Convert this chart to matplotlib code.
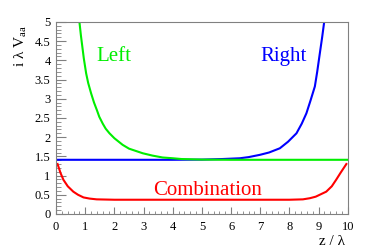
import matplotlib
matplotlib.use('Agg')
import matplotlib.pyplot as plt
from matplotlib.ticker import MultipleLocator, FormatStrFormatter

plt.rcParams['font.family'] = ['Liberation Serif', 'DejaVu Serif']
plt.rcParams['mathtext.fontset'] = 'custom'
plt.rcParams['mathtext.rm'] = 'Liberation Serif'

# curves
left_x = [0.80, 0.85, 0.90, 0.95, 1.03, 1.10, 1.20, 1.30, 1.40, 1.48, 1.60, 1.70, 1.83, 2.00, 2.28, 2.50,
          2.97, 3.30, 3.65, 4.00, 4.30, 5.0, 6.0, 7.0, 8.0, 9.0, 10.0]
left_y = [5.00, 4.65, 4.35, 4.05, 3.66, 3.41, 3.14, 2.90, 2.70, 2.53, 2.35, 2.22, 2.10, 1.97, 1.80, 1.70,
          1.58, 1.52, 1.47, 1.45, 1.43, 1.415, 1.41, 1.41, 1.41, 1.41, 1.41]

right_x = [0.0, 1.0, 2.0, 3.0, 4.0, 5.0, 5.70, 6.30, 6.60, 6.99, 7.30, 7.67, 7.95, 8.24, 8.42, 8.58, 8.72,
           8.87, 8.95, 9.04, 9.12, 9.19]
right_y = [1.41, 1.41, 1.41, 1.41, 1.41, 1.415, 1.43, 1.45, 1.48, 1.54, 1.60, 1.71, 1.88, 2.10, 2.35, 2.62, 2.95,
           3.32, 3.70, 4.18, 4.60, 5.00]

comb_x = [0.05, 0.15, 0.25, 0.40, 0.59, 0.75, 0.94, 1.15, 1.39, 2.0, 3.0, 4.0, 5.0, 6.0, 7.0, 8.0, 8.46, 8.70,
          8.90, 9.26, 9.45, 9.60, 9.75, 9.95]
comb_y = [1.30, 1.07, 0.89, 0.72, 0.58, 0.50, 0.43, 0.40, 0.38, 0.37, 0.37, 0.37, 0.37, 0.37, 0.37, 0.37, 0.38, 0.41,
          0.45, 0.58, 0.72, 0.89, 1.07, 1.30]

fig = plt.figure(figsize=(3.74, 2.52), dpi=100)
ax = fig.add_axes([0.150, 0.151, 0.780, 0.762])

ax.plot(right_x, right_y, color='#0000ff', lw=1.5)
ax.plot(left_x, left_y, color='#00ee00', lw=1.5)
ax.plot(comb_x, comb_y, color='#ff0000', lw=1.5)

ax.text(1.39, 3.97, 'Left', color='#00ee00', fontsize=15)
ax.text(6.99, 3.97, 'Right', color='#0000ff', fontsize=15)
ax.text(3.32, 0.49, 'Combination', color='#ff0000', fontsize=15)

ax.set_xlim(0, 10)
ax.set_ylim(0, 5)
ax.xaxis.set_major_locator(MultipleLocator(1))
ax.xaxis.set_minor_locator(MultipleLocator(0.2))
ax.yaxis.set_major_locator(MultipleLocator(0.5))
ax.yaxis.set_minor_locator(MultipleLocator(0.1))
ax.xaxis.set_major_formatter(FormatStrFormatter('%g'))
ax.yaxis.set_major_formatter(FormatStrFormatter('%g'))
ax.tick_params(which='both', direction='in', color='#808080', top=False, right=False, labelsize=9)
ax.tick_params(axis='y', which='major', length=7, pad=4)
ax.tick_params(axis='y', which='minor', length=3.5)
ax.tick_params(axis='x', which='major', length=5, pad=5)
ax.tick_params(axis='x', which='minor', length=2.5)
for s in ax.spines.values():
    s.set_color('#808080')
    s.set_linewidth(0.8)

fig.text(0.056, 0.90, 'i λ V$_{\\rm aa}$', rotation=90, ha='center', va='top', fontsize=11)
fig.text(0.922, 0.028, 'z / λ', ha='right', va='baseline', fontsize=11)

fig.savefig('out.png', dpi=100)
